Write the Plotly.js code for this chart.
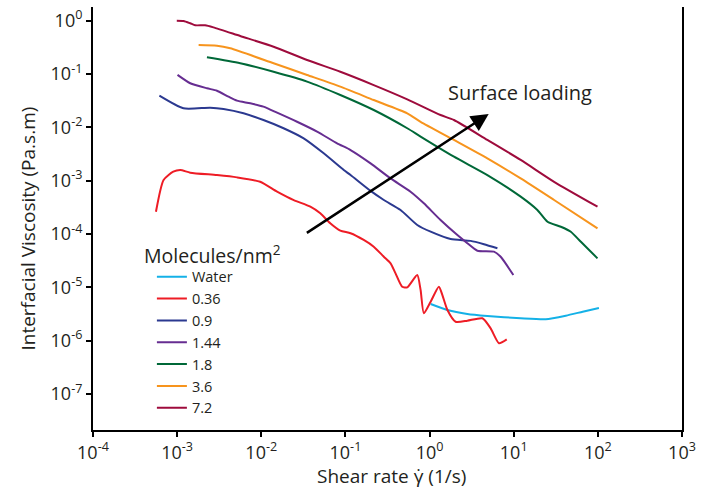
<!DOCTYPE html>
<html>
<head>
<meta charset="utf-8">
<script src="https://cdn.plot.ly/plotly-3.0.1.min.js"></script>
<style>html,body{margin:0;padding:0;background:#fff;}#chart{width:703px;height:489px;}</style>
</head>
<body>
<div id="chart"></div>
<script>
// Series names
const seriesNames = ["Water", "0.36", "0.9", "1.44", "1.8", "3.6", "7.2"];

// Water
const waterX = [1.03, 1.63, 2.81, 4.86, 12.1, 24, 41.6, 66, 103];
const waterY = [4.84e-6, 3.73e-6, 3.14e-6, 2.88e-6, 2.61e-6, 2.5e-6, 2.92e-6, 3.47e-6, 4.07e-6];

// 0.36 molecules/nm2
const s036X = [5.6e-4, 6.9e-4, 9.0e-4, 1.09e-3, 1.43e-3, 2.97e-3, 5.14e-3, 9.7e-3, 1.54e-2, 2.43e-2, 3.83e-2, 5.03e-2, 6.6e-2, 8.7e-2, 0.115, 0.165, 0.217, 0.286, 0.344, 0.394, 0.473, 0.543, 0.714, 0.782, 0.855, 1.03, 1.29, 1.42, 1.63, 2.04, 2.81, 4.24, 5.32, 6.68, 8.26];
const s036Y = [2.6e-4, 1.03e-3, 1.47e-3, 1.58e-3, 1.41e-3, 1.27e-3, 1.15e-3, 9.5e-4, 6.2e-4, 4.3e-4, 3.24e-4, 2.43e-4, 1.58e-4, 1.15e-4, 1.03e-4, 7.7e-5, 5.75e-5, 3.73e-5, 2.81e-5, 1.82e-5, 1.02e-5, 9.95e-6, 1.69e-5, 8.9e-6, 3.24e-6, 5.35e-6, 1.02e-5, 7.1e-6, 3.73e-6, 2.25e-6, 2.35e-6, 2.61e-6, 1.69e-6, 8.9e-7, 1.05e-6];

// 0.9
const s09X = [6.15e-4, 1.19e-3, 2.47e-3, 3.56e-3, 6.15e-3, 1.06e-2, 1.84e-2, 3.19e-2, 5.52e-2, 9.55e-2, 0.115, 0.199, 0.286, 0.452, 0.714, 1.03, 1.78, 3.08, 4.43, 6.4];
const s09Y = [3.92e-2, 2.27e-2, 2.33e-2, 2.2e-2, 1.83e-2, 1.37e-2, 9.6e-3, 6.2e-3, 3.25e-3, 1.58e-3, 1.27e-3, 6.4e-4, 4.33e-4, 2.81e-4, 1.47e-4, 1.1e-4, 8.0e-5, 7.4e-5, 6.4e-5, 5.37e-5];

// 1.44
const s144X = [1.01e-3, 1.43e-3, 2.26e-3, 2.97e-3, 4.08e-3, 5.14e-3, 7.4e-3, 1.06e-2, 1.54e-2, 2.66e-2, 4.6e-2, 7.96e-2, 0.115, 0.199, 0.344, 0.594, 0.855, 1.35, 2.14, 2.81, 3.7, 5.82, 7.0, 9.9];
const s144Y = [9.6e-2, 6.7e-2, 5.4e-2, 4.86e-2, 3.75e-2, 3.16e-2, 2.82e-2, 2.44e-2, 1.88e-2, 1.27e-2, 8.3e-3, 5.0e-3, 3.75e-3, 2.11e-3, 1.1e-3, 6.2e-4, 3.75e-4, 1.82e-4, 9.5e-5, 6.7e-5, 4.84e-5, 4.64e-5, 3.73e-5, 1.69e-5];

// 1.8
const s18X = [2.26e-3, 5.62e-3, 1.4e-2, 3.5e-2, 8.7e-2, 0.217, 0.543, 0.782, 1.95, 4.86, 12.1, 19.1, 25.2, 36.3, 47.7, 62.8, 99];
const s18Y = [0.206, 0.159, 0.110, 7.2e-2, 4.04e-2, 2.11e-2, 9.6e-3, 6.7e-3, 2.81e-3, 1.27e-3, 5.0e-4, 2.81e-4, 1.69e-4, 1.36e-4, 1.1e-4, 7.1e-5, 3.48e-5];

// 3.6
const s36X = [1.8e-3, 2.97e-3, 4.28e-3, 1.4e-2, 3.5e-2, 8.7e-2, 0.217, 0.543, 0.782, 1.95, 4.86, 12.1, 30.2, 99];
const s36Y = [0.35, 0.34, 0.303, 0.159, 9.6e-2, 5.8e-2, 3.25e-2, 1.83e-2, 1.27e-2, 5.8e-3, 2.62e-3, 1.1e-3, 4.33e-4, 1.27e-4];

// 7.2
const s72X = [9.9e-4, 1.19e-3, 1.43e-3, 1.64e-3, 2.15e-3, 2.7e-3, 5.62e-3, 1.4e-2, 3.5e-2, 8.7e-2, 0.217, 0.543, 1.35, 1.95, 4.86, 12.1, 30.2, 99];
const s72Y = [1.0, 0.987, 0.894, 0.82, 0.82, 0.75, 0.516, 0.325, 0.183, 0.110, 6.2e-2, 3.35e-2, 1.7e-2, 1.37e-2, 5.8e-3, 2.44e-3, 9.5e-4, 3.24e-4];

// Tick values and labels
const xTickVals = [1e-4, 1e-3, 1e-2, 1e-1, 1e0, 1e1, 1e2, 1e3];
const xTickText = ["10<sup>-4</sup>", "10<sup>-3</sup>", "10<sup>-2</sup>", "10<sup>-1</sup>", "10<sup>0</sup>", "10<sup>1</sup>", "10<sup>2</sup>", "10<sup>3</sup>"];
const yTickVals = [1e-7, 1e-6, 1e-5, 1e-4, 1e-3, 1e-2, 1e-1, 1e0];
const yTickText = ["10<sup>-7</sup>", "10<sup>-6</sup>", "10<sup>-5</sup>", "10<sup>-4</sup>", "10<sup>-3</sup>", "10<sup>-2</sup>", "10<sup>-1</sup>", "10<sup>0</sup>"];

// Arrow (data units)
const arrowTail = [0.0334, 1.0e-4];
const arrowHead = [5.04, 1.77e-2];

const colors = ["#14b1e7", "#ee1c25", "#2b3990", "#662d91", "#006838", "#f7941d", "#9e0b3c"];
const xs = [waterX, s036X, s09X, s144X, s18X, s36X, s72X];
const ys = [waterY, s036Y, s09Y, s144Y, s18Y, s36Y, s72Y];

const FONT = "'Open Sans', Lato, sans-serif";
const INK = "#231f20";

const traces = seriesNames.map((n, i) => ({
  x: xs[i], y: ys[i], name: n, type: "scatter", mode: "lines",
  line: {color: colors[i], width: 2, shape: "spline", smoothing: 0.6}
}));

const layout = {
  width: 703, height: 489,
  margin: {l: 93, r: 21, t: 7, b: 59},
  paper_bgcolor: "#fff", plot_bgcolor: "#fff",
  font: {family: FONT, color: INK},
  showlegend: true,
  legend: {
    x: 0.1, xanchor: "left", y: 0.40, yanchor: "top",
    bgcolor: "rgba(0,0,0,0)", borderwidth: 0,
    font: {family: FONT, size: 14.5, color: INK},
    tracegroupgap: 0
  },
  xaxis: {
    type: "log", range: [-4, 3], tickmode: "array", tickvals: xTickVals, ticktext: xTickText,
    showgrid: false, zeroline: false, showline: true, linecolor: "#000", linewidth: 2,
    ticks: "outside", ticklen: 5, tickwidth: 2, tickcolor: "#000",
    tickfont: {family: FONT, size: 18, color: INK}
  },
  yaxis: {
    type: "log", range: [-7.679, 0.257], tickmode: "array", tickvals: yTickVals, ticktext: yTickText,
    showgrid: false, zeroline: false, showline: true, linecolor: "#000", linewidth: 2, mirror: true,
    ticks: "outside", ticklen: 5, tickwidth: 2, tickcolor: "#000",
    tickfont: {family: FONT, size: 18, color: INK}
  },
  annotations: [
    {text: "Interfacial Viscosity (Pa.s.m)", xref: "paper", yref: "paper", x: -0.1095, y: 0.475,
     textangle: -90, showarrow: false, xanchor: "center", yanchor: "middle",
     font: {family: FONT, size: 19, color: INK}},
    {text: "Shear rate \u03B3\u0307 (1/s)", xref: "paper", yref: "paper", x: 0.506, y: -0.108,
     showarrow: false, xanchor: "center", yanchor: "middle",
     font: {family: FONT, size: 19, color: INK}},
    {text: "Molecules/nm<sup>2</sup>", xref: "paper", yref: "paper", x: 0.0832, y: 0.414,
     showarrow: false, xanchor: "left", yanchor: "middle",
     font: {family: FONT, size: 19.5, color: INK}},
    {text: "Surface loading", xref: "paper", yref: "paper", x: 0.599, y: 0.797,
     showarrow: false, xanchor: "left", yanchor: "middle",
     font: {family: FONT, size: 20, color: INK}},
    {text: "", xref: "x", yref: "y", axref: "x", ayref: "y",
     x: Math.log10(arrowHead[0]), y: Math.log10(arrowHead[1]),
     ax: Math.log10(arrowTail[0]), ay: Math.log10(arrowTail[1]),
     showarrow: true, arrowhead: 2, arrowsize: 1.4, arrowwidth: 2.5, arrowcolor: "#000"}
  ]
};

Plotly.newPlot("chart", traces, layout, {staticPlot: true, displayModeBar: false});
</script>
</body>
</html>
